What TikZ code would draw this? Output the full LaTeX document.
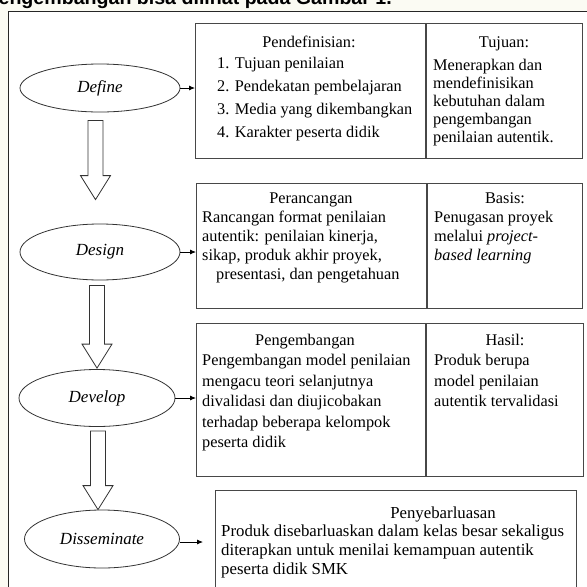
\documentclass[tikz,border=0pt]{standalone}
\usepackage{fontspec}
\setmainfont{Liberation Serif}
\setsansfont{Liberation Sans}
\usetikzlibrary{arrows.meta}
\usetikzlibrary{calc}
\usetikzlibrary{shapes.geometric}

\definecolor{paper}{RGB}{251,251,243}

% hollow block arrow between two stages: from, to, x shift, top gap, tip gap
\newcommand{\blockarrow}[5]{%
	\draw[hollow] let \p1=(#1.south), \p2=(#2.north), \n1={\x1+(#3)}, \n2={\y1-(#4)}, \n3={\y2+(#5)}, \n4={\n3+24} in
	(\n1-7.5,\n2) -- (\n1+7.5,\n2) -- (\n1+7.5,\n4) -- (\n1+15,\n4) -- (\n1,\n3) -- (\n1-15,\n4) -- (\n1-7.5,\n4) -- cycle;}

\begin{document}
\begin{tikzpicture}[x=1pt,y=1pt,
	txt/.style={inner sep=0pt,font=\fontsize{16.3}{18}\selectfont},
	stage/.style={ellipse,draw=black!80,line width=0.8pt,inner sep=0pt,font=\fontsize{17}{18}\selectfont\itshape},
	panel/.style={draw=black!72,line width=1.3pt,inner sep=0pt,anchor=north west},
	hollow/.style={draw=black!80,line width=0.8pt,fill=white},
	link/.style={-{Latex[length=6pt,width=5pt]},line width=0.8pt}]
	\useasboundingbox (0,0) rectangle (587,-587);
	\clip (0,0) rectangle (587,-587);
	\fill[paper] (0,0) rectangle (587,-587);
	\node[anchor=base east,inner sep=0pt,font=\sffamily\bfseries\fontsize{19.6}{20}\selectfont] (hd) at (392,-4) {pengembangan bisa dilihat pada Gambar 1.};
	\filldraw[fill=white,draw=black!85,line width=0.8pt] (8,-11) rectangle (600,-600);

	% stages
	\node[stage,minimum width=160pt,minimum height=48pt] (def) at (100,-88) {Define};
	\node[stage,minimum width=160pt,minimum height=56pt] (des) at (100,-252) {Design};
	\node[stage,minimum width=156pt,minimum height=57pt] (dev) at (97,-398) {Develop};
	\node[stage,minimum width=155pt,minimum height=58pt] (dis) at (102,-539) {Disseminate};
	\blockarrow{def}{des}{-4.5}{8}{24}
	\blockarrow{des}{dev}{-3}{5}{1}
	\blockarrow{dev}{dis}{1}{4}{0}

	% panels
	\node[panel,minimum width=387pt,minimum height=135pt] (b1) at (195,-23) {};
	\node[panel,minimum width=386pt,minimum height=125pt] (b2) at (196,-183) {};
	\node[panel,minimum width=387pt,minimum height=153pt] (b3) at (196,-323) {};
	\node[panel,minimum width=361pt,minimum height=110pt] (b4) at (215,-490) {};
	\draw[draw=black!72,line width=1.3pt] ([xshift=231pt]b1.north west) -- ([xshift=231pt]b1.south west);
	\draw[draw=black!72,line width=1.3pt] ([xshift=231pt]b2.north west) -- ([xshift=231pt]b2.south west);
	\draw[draw=black!72,line width=1.3pt] ([xshift=230pt]b3.north west) -- ([xshift=230pt]b3.south west);
	\draw[link] (def.east) -- (def.east -| b1.west);
	\draw[link] (des.east) -- (des.east -| b2.west);
	\draw[link] (dev.east) -- (dev.east -| b3.west);
	\draw[link] ([yshift=-3pt]dis.east) -- ([xshift=-12pt,yshift=-3pt]dis.east -| b4.west);

	% define
	\node[txt,anchor=base] (t1) at (309,-47) {Pendefinisian:};
	\foreach \t [count=\i] in {Tujuan penilaian,Pendekatan pembelajaran,Media yang dikembangkan,Karakter peserta didik}
		\node[txt,anchor=base west] (l\i) at (217,-45-23*\i) {\i. \t};
	\node[txt,anchor=base] (h1) at (504,-47) {Tujuan:};
	\foreach \t [count=\i] in {Menerapkan dan,mendefinisikan,kebutuhan dalam,pengembangan,penilaian autentik.}
		\node[txt,anchor=base west] (r1\i) at (433,-52-18*\i) {\t};

	% design
	\node[txt,anchor=base] (t2) at (311,-203) {Perancangan};
	\foreach \t [count=\i] in {Rancangan format penilaian,{autentik: penilaian kinerja,},{sikap, produk akhir proyek,}}
		\node[txt,anchor=base west] (m2\i) at (202,-203-19*\i) {\t};
	\node[txt,anchor=base west] (m24) at (216,-279) {presentasi, dan pengetahuan};
	\node[txt,anchor=base] (h2) at (505,-203) {Basis:};
	\foreach \t [count=\i] in {Penugasan proyek,melalui \textit{project-},\textit{based learning}}
		\node[txt,anchor=base west] (r2\i) at (434,-203-19*\i) {\t};

	% develop
	\node[txt,anchor=base] (t3) at (305,-345) {Pengembangan};
	\foreach \t [count=\i] in {Pengembangan model penilaian,mengacu teori selanjutnya,divalidasi dan diujicobakan,terhadap beberapa kelompok,peserta didik}
		\node[txt,anchor=base west] (m3\i) at (202,-345-20.5*\i) {\t};
	\node[txt,anchor=base] (h3) at (505,-345) {Hasil:};
	\foreach \t [count=\i] in {Produk berupa,model penilaian,autentik tervalidasi}
		\node[txt,anchor=base west] (r3\i) at (434,-345-20.5*\i) {\t};

	% disseminate
	\node[txt,anchor=base,font=\fontsize{16.8}{18}\selectfont] (t4) at (443,-518) {Penyebarluasan};
	\foreach \t [count=\i] in {Produk disebarluaskan dalam kelas besar sekaligus,diterapkan untuk menilai kemampuan autentik,peserta didik SMK}
		\node[txt,anchor=base west,font=\fontsize{16.8}{18}\selectfont] (m4\i) at (221,-517-19*\i) {\t};
\end{tikzpicture}
\end{document}
